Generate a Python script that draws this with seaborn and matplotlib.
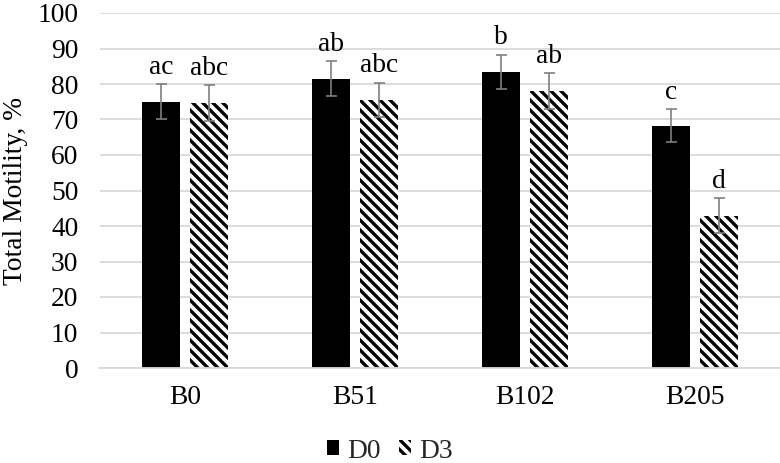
import matplotlib
matplotlib.use("Agg")
import matplotlib.pyplot as plt
import seaborn as sns
import pandas as pd
import numpy as np
from matplotlib.patches import Patch

groups = ["B0", "B51", "B102", "B205"]
days = ["D0", "D3"]
d0_values = [75.0, 81.5, 83.5, 68.3]
d3_values = [74.7, 75.5, 78.0, 42.9]
d0_err = [4.9, 4.9, 4.8, 4.7]
d3_err = [5.0, 4.9, 5.0, 5.0]
d0_letters = ["ac", "ab", "b", "c"]
d3_letters = ["abc", "abc", "ab", "d"]
y_ticks = [0, 10, 20, 30, 40, 50, 60, 70, 80, 90, 100]

FS = 16.5

sns.set_theme(style="white")
plt.rcParams["font.family"] = ["Liberation Serif", "DejaVu Serif"]
plt.rcParams["hatch.linewidth"] = 2.0

df = pd.DataFrame({
    "group": groups * 2,
    "day": ["D0"] * 4 + ["D3"] * 4,
    "value": d0_values + d3_values,
})

fig = plt.figure(figsize=(6.5, 463 / 120), dpi=120)
ax = fig.add_axes([100 / 780, 1 - 368 / 463, 680 / 780, 355 / 463])

sns.barplot(data=df, x="group", y="value", hue="day", order=groups,
            hue_order=days, palette=["black", "white"], width=0.565,
            gap=0.207, errorbar=None, ax=ax, legend=False, zorder=2)

HATCH = "\\\\\\\\"
n = len(groups)
patches = [p for p in ax.patches][:2 * n]
for i, p in enumerate(patches):
    if i >= n:
        p.set_facecolor("white")
        p.set_edgecolor("black")
        p.set_hatch(HATCH)
    p.set_linewidth(0)

values = d0_values + d3_values
errs = d0_err + d3_err
letters = d0_letters + d3_letters
for p, v, e, lab in zip(patches, values, errs, letters):
    cx = p.get_x() + p.get_width() / 2
    ax.errorbar(cx, v, yerr=e, color="#7f7f7f", elinewidth=1.0,
                capsize=3.3, capthick=1.0, zorder=3)
    ax.text(cx, v + e + 1.2, lab, ha="center", va="bottom", fontsize=FS,
            color="black")

ax.set_ylim(0, 100)
ax.set_xlim(-0.5, 3.5)
ax.set_yticks(y_ticks)
ax.yaxis.grid(True, color="#d9d9d9", linewidth=1.1, zorder=0)
ax.xaxis.grid(False)
ax.set_axisbelow(True)
for s in ["top", "right", "left"]:
    ax.spines[s].set_visible(False)
ax.spines["bottom"].set_color("#d9d9d9")
ax.spines["bottom"].set_linewidth(1.1)
ax.tick_params(axis="both", length=0, labelsize=FS, colors="black")
ax.tick_params(axis="y", pad=13)
ax.tick_params(axis="x", pad=10)
ax.set_xlabel("")
ax.set_ylabel("Total Motility, %", fontsize=FS, color="black")
ax.yaxis.set_label_coords(-0.106, 0.5)

handles = [Patch(facecolor="black", edgecolor="black", linewidth=0),
           Patch(facecolor="white", edgecolor="black", hatch=HATCH, linewidth=0)]
fig.legend(handles, days, loc="center", bbox_to_anchor=(0.5, 1 - 451 / 463),
           ncol=2, frameon=False, fontsize=FS, handlelength=0.45,
           handleheight=0.45, handletextpad=0.3, columnspacing=0.65,
           borderpad=0.1)

fig.savefig("out.png", dpi=120)
